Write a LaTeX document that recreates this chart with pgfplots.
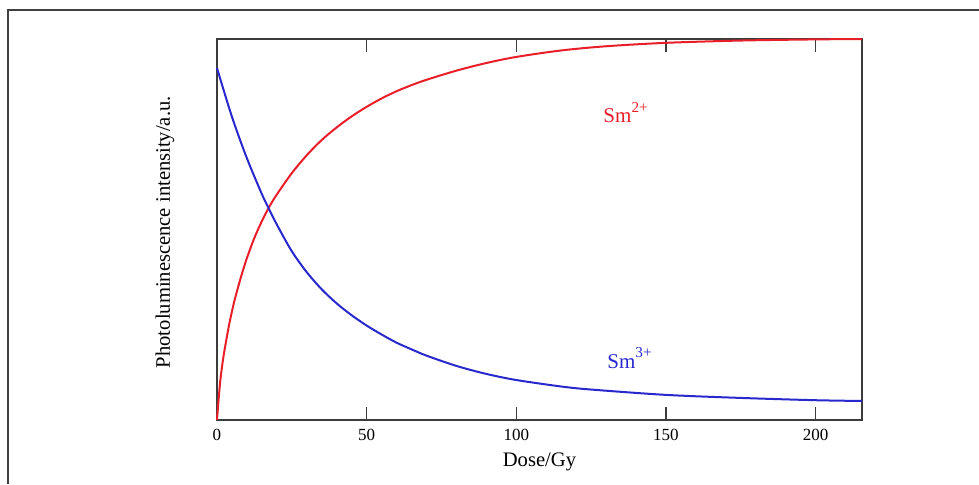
\documentclass[border=0pt]{standalone}
\usepackage{fontspec}
\setmainfont{Liberation Serif}
\usepackage{pgfplots}
\pgfplotsset{compat=1.18}
\definecolor{smred}{RGB}{232,30,40}
\definecolor{smblue}{RGB}{40,40,205}
\definecolor{axgray}{RGB}{60,60,60}
\newcommand{\ion}[1]{Sm\raisebox{0.5em}{\fontsize{7.6}{9}\selectfont #1}}
\begin{document}
\begin{tikzpicture}
\begin{axis}[
  scale only axis,
  width=322.5pt, height=190.5pt,
  xmin=0, xmax=215.5, ymin=0, ymax=1,
  xtick={0,50,100,150,200},
  ytick=\empty,
  xtick pos=both,
  tick align=inside,
  major tick length=6.5pt,
  axis line style={axgray, line width=0.8pt},
  every tick/.style={axgray, line width=0.7pt},
  /pgf/number format/assume math mode=true,
  ticklabel style={font=\fontsize{8.5}{10}\selectfont},
  xticklabel style={yshift=-1pt},
  label style={font=\fontsize{10.3}{12}\selectfont},
  xlabel={Dose/Gy},
  ylabel={Photoluminescence intensity/a.u.},
  xlabel style={at={(rel axis cs:0.5,-0.110)}, anchor=center},
  ylabel style={at={(rel axis cs:-0.0806,0.493)}, anchor=center},
  clip=false,
]
% Sm2+ (red)
\addplot[smred, line width=1pt, smooth, tension=0.5] coordinates {
(0,0) (1,0.095) (2,0.158) (3,0.205) (4,0.248) (5,0.285) (6,0.318)
(8,0.375) (10,0.425) (12.5,0.478) (15,0.522) (17.5,0.56) (20,0.592)
(25,0.648) (30,0.695) (35,0.735) (40,0.768) (45,0.797) (50,0.822)
(55,0.844) (60,0.863) (65,0.879) (70,0.893) (80,0.917) (90,0.937)
(100,0.953) (115,0.970) (130,0.981) (150,0.990) (175,0.996) (200,0.999)
(215.5,1.0)
};
% Sm3+ (blue)
\addplot[smblue, line width=1pt, smooth, tension=0.5] coordinates {
(0,0.924) (5,0.796) (10,0.687) (15,0.593) (17,0.56) (20,0.513)
(25,0.443) (30,0.388) (35,0.343) (40,0.306) (45,0.275) (50,0.248)
(55,0.2245) (60,0.203) (65,0.1855) (70,0.169) (80,0.142) (90,0.121)
(100,0.105) (115,0.088) (125,0.080) (150,0.066) (175,0.058) (200,0.052)
(215.5,0.050)
};
\node[smred, anchor=base west, inner sep=0pt, font=\fontsize{10.5}{12}\selectfont]
  at (axis cs:129,0.78) {\ion{2+}};
\node[smblue, anchor=base west, inner sep=0pt, font=\fontsize{10.5}{12}\selectfont]
  at (axis cs:130.3,0.136) {\ion{3+}};
\coordinate (bl) at (rel axis cs:-0.3364,-0.168);
\coordinate (tr) at (rel axis cs:1.1814,1.1024);
\coordinate (fr) at (rel axis cs:-0.324,1.0761);
\end{axis}
\draw[line width=1pt, black!75] (fr |- bl) -- (fr) -- (fr -| tr);
\pgfresetboundingbox
\useasboundingbox (bl) rectangle (tr);
\end{tikzpicture}
\end{document}
